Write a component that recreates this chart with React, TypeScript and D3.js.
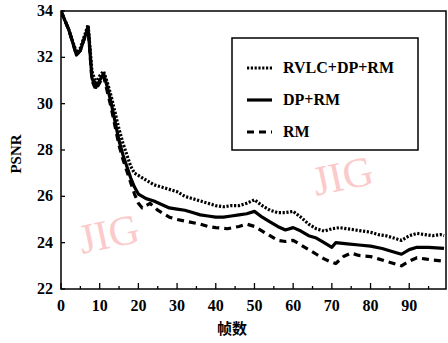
import * as d3 from 'd3'

// frame indices and PSNR values
const rvlcFrames = [0, 2, 4, 5, 7, 8, 9, 10, 11, 12, 13, 14, 15, 16, 17, 18, 19, 20, 22, 24, 26, 28, 30, 32, 34, 36, 38, 40, 42, 44, 46, 48, 50, 52, 54, 56, 58, 60, 62, 64, 66, 68, 70, 72, 74, 76, 78, 80, 82, 84, 86, 88, 90, 92, 94, 96, 98, 99]
const rvlcPsnr = [34.0, 33.2, 32.2, 32.4, 33.4, 31.4, 30.9, 31.2, 31.4, 30.9, 30.3, 29.6, 28.9, 28.3, 27.8, 27.3, 27.0, 26.9, 26.7, 26.5, 26.4, 26.3, 26.2, 26.0, 25.9, 25.8, 25.7, 25.6, 25.55, 25.6, 25.6, 25.7, 25.85, 25.6, 25.4, 25.3, 25.3, 25.35, 25.1, 24.8, 24.6, 24.5, 24.6, 24.65, 24.6, 24.55, 24.5, 24.45, 24.35, 24.3, 24.2, 24.1, 24.3, 24.4, 24.35, 24.3, 24.35, 24.3]

const dpFrames = [0, 2, 4, 5, 7, 8, 9, 10, 11, 12, 13, 14, 15, 16, 17, 18, 19, 20, 22, 24, 26, 28, 30, 32, 34, 36, 38, 40, 42, 44, 46, 48, 50, 52, 54, 56, 58, 60, 62, 64, 66, 68, 70, 71, 74, 77, 80, 83, 86, 88, 90, 92, 95, 99]
const dpPsnr = [34.0, 33.2, 32.1, 32.3, 33.3, 31.1, 30.7, 31.0, 31.3, 30.7, 30.0, 29.2, 28.4, 27.8, 27.3, 26.8, 26.4, 26.1, 25.9, 25.8, 25.65, 25.5, 25.45, 25.4, 25.3, 25.2, 25.15, 25.1, 25.1, 25.15, 25.2, 25.25, 25.35, 25.1, 24.9, 24.7, 24.55, 24.65, 24.5, 24.3, 24.2, 24.0, 23.8, 24.0, 23.95, 23.9, 23.85, 23.75, 23.6, 23.5, 23.7, 23.8, 23.8, 23.75]

const rmFrames = [0, 2, 4, 5, 7, 8, 9, 10, 11, 12, 13, 14, 15, 16, 17, 18, 19, 20, 21, 22, 23, 25, 28, 30, 33, 36, 38, 40, 43, 46, 48, 50, 52, 54, 56, 58, 60, 62, 64, 66, 68, 70, 71, 73, 75, 77, 80, 82, 84, 86, 88, 90, 92, 94, 96, 99]
const rmPsnr = [34.0, 33.2, 32.1, 32.3, 33.3, 31.0, 30.6, 30.9, 31.2, 30.5, 29.8, 29.0, 28.2, 27.6, 27.1, 26.6, 26.1, 25.7, 25.5, 25.6, 25.7, 25.4, 25.1, 25.0, 24.9, 24.8, 24.7, 24.65, 24.6, 24.7, 24.8, 24.7, 24.5, 24.3, 24.1, 24.05, 24.1, 23.9, 23.7, 23.5, 23.3, 23.15, 23.1, 23.4, 23.55, 23.45, 23.4, 23.3, 23.2, 23.1, 23.0, 23.2, 23.35, 23.3, 23.25, 23.2]

const xTicks = [0, 10, 20, 30, 40, 50, 60, 70, 80, 90]
const yTicks = [22, 24, 26, 28, 30, 32, 34]
const seriesNames = ['RVLC+DP+RM', 'DP+RM', 'RM']

const W = 448
const H = 343
const left = 61
const right = 446
const top = 11
const bottom = 289

const serif = { fontFamily: '"Liberation Serif", "Times New Roman", serif' }

export default function App() {
  const x = d3.scaleLinear().domain([0, 99.5]).range([left, right])
  const y = d3.scaleLinear().domain([22, 34]).range([bottom, top])

  const line = d3
    .line<[number, number]>()
    .x((d) => x(d[0]))
    .y((d) => y(d[1]))

  const series = [
    { name: seriesNames[0], pts: rvlcFrames.map((f, i) => [f, rvlcPsnr[i]] as [number, number]), dash: '2.2,1.6' },
    { name: seriesNames[1], pts: dpFrames.map((f, i) => [f, dpPsnr[i]] as [number, number]), dash: '' },
    { name: seriesNames[2], pts: rmFrames.map((f, i) => [f, rmPsnr[i]] as [number, number]), dash: '7,5' },
  ]

  const minorX = d3.range(0, 100, 5)

  return (
    <svg width={W} height={H} style={{ position: 'absolute', left: 0, top: 0, background: '#fff' }}>
      <defs>
        <clipPath id="plot">
          <rect x={left} y={top - 2} width={right - left} height={bottom - top + 4} />
        </clipPath>
      </defs>

      {/* watermarks */}
      <text x={82} y={254} transform="rotate(-12 82 254)" style={serif} fontSize={42} fill="#fbcaca">JIG</text>
      <text x={316} y={196} transform="rotate(-12 316 196)" style={serif} fontSize={42} fill="#fbcaca">JIG</text>

      {/* frame */}
      <rect x={left} y={top} width={right - left} height={bottom - top} fill="none" stroke="#000" strokeWidth={1.5} />

      {/* x ticks */}
      {minorX.map((v) => (
        <line key={'mx' + v} x1={x(v)} x2={x(v)} y1={bottom} y2={bottom - (v % 10 === 0 ? 6 : 3)} stroke="#000" strokeWidth={1.3} />
      ))}
      {xTicks.map((v) => (
        <text key={'xt' + v} x={x(v)} y={311} textAnchor="middle" style={serif} fontWeight="bold" fontSize={16}>{v}</text>
      ))}

      {/* y ticks */}
      {yTicks.map((v) => (
        <g key={'yt' + v}>
          <line x1={left} x2={left + 4} y1={y(v)} y2={y(v)} stroke="#000" strokeWidth={1.3} />
          <text x={53} y={y(v) + 5} textAnchor="end" style={serif} fontWeight="bold" fontSize={16}>{v}</text>
        </g>
      ))}

      {/* axis titles */}
      <text transform={`translate(21,${(top + bottom) / 2 + 4}) rotate(-90)`} textAnchor="middle" style={serif} fontWeight="bold" fontSize={15}>PSNR</text>
      <text x={232} y={334} textAnchor="middle" style={{ fontFamily: '"Noto Sans CJK SC", sans-serif' }} fontWeight="bold" fontSize={15}>帧数</text>

      {/* series */}
      <g clipPath="url(#plot)">
        {series.map((s) => (
          <path key={s.name} d={line(s.pts) ?? ''} fill="none" stroke="#000" strokeWidth={3.2} strokeDasharray={s.dash} strokeLinejoin="round" />
        ))}
      </g>

      {/* legend */}
      <rect x={232} y={38} width={186} height={112} fill="#fff" stroke="#000" strokeWidth={1.5} />
      {series.map((s, i) => {
        const ly = 68 + i * 32
        return (
          <g key={'lg' + s.name}>
            <line x1={247} x2={272} y1={ly} y2={ly} stroke="#000" strokeWidth={3.2} strokeDasharray={s.dash} />
            <text x={283} y={ly + 5} style={serif} fontSize={16} fontWeight="bold">{s.name}</text>
          </g>
        )
      })}
    </svg>
  )
}
